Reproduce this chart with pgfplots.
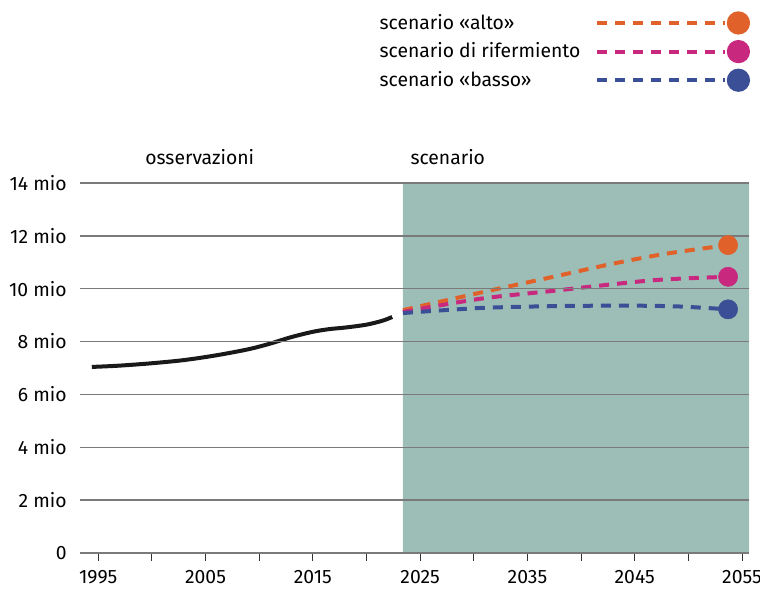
\documentclass[border=0pt]{standalone}
\usepackage{pgfplots}
\pgfplotsset{compat=1.18}
\usepackage{fontspec}
\setmainfont{Fira Sans}
\definecolor{shade}{HTML}{9DBEB7}
\definecolor{corange}{HTML}{E0622A}
\definecolor{cpink}{HTML}{C8287E}
\definecolor{cblue}{HTML}{3A4F96}
\definecolor{cgrid}{HTML}{7A7A7A}
\begin{document}
\fontsize{14.5pt}{17pt}\selectfont
\begin{tikzpicture}
\useasboundingbox (0,0) rectangle (570pt,442.5pt);
\begin{axis}[
  at={(60pt,27.75pt)}, anchor=south west,
  scale only axis, width=501.75pt, height=277.5pt,
  xmin=1993.3, xmax=2055.65, ymin=0, ymax=14,
  axis on top,
  axis x line*=bottom, axis y line*=left,
  x axis line style={cgrid, line width=1pt, -},
  y axis line style={draw=none},
  ytick={0,2,...,14},
  yticklabels={0,2 mio,4 mio,6 mio,8 mio,10 mio,12 mio,14 mio},
  ymajorgrids, grid style={cgrid, line width=1pt},
  ytick style={draw=none},
  xtick={1995,2005,...,2055},
  xticklabels={1995,2005,2015,2025,2035,2045,2055},
  minor xtick={2000,2010,...,2050},
  tick align=outside, xtick pos=bottom,
  major tick length=6pt, minor tick length=6pt,
  xtick style={black!80, line width=0.8pt},
  minor tick style={black!80, line width=0.8pt},
  /pgf/number format/assume math mode=true,
  tick label style={font=\fontsize{14.5pt}{17pt}\selectfont},
  yticklabel style={xshift=1pt},
  xticklabel style={yshift=-2pt},
  legend style={draw=none, fill=none, at={(0.4375,1.472)}, anchor=north west,
    font=\fontsize{14.5pt}{17pt}\selectfont, row sep=4pt, column sep=9pt},
  legend cell align=left,
  legend plot pos=right,
  legend image code/.code={
    \draw[#1] (0pt,0pt) -- (96pt,0pt);
    \fill[#1, solid] (106pt,0pt) circle (7.2pt);
  },
  clip=false,
]
\addplot[draw=none, fill=shade, forget plot] coordinates {(2023.4,0) (2055.65,0) (2055.65,14) (2023.4,14)} \closedcycle;
\addplot[black!90, line width=3pt, smooth, forget plot] coordinates {
(1994.4,7.04) (1997,7.09) (2000,7.18) (2003,7.30) (2006,7.48) (2009,7.71) (2011,7.92) (2013,8.17) (2015,8.37) (2016.5,8.47) (2018,8.53) (2020,8.64) (2021.5,8.79) (2022.4,8.93)};
\addplot[corange, line width=3pt, dash pattern=on 7.5pt off 6pt, smooth] coordinates {
(2023.4,9.19) (2030.6,9.85) (2037.4,10.45) (2043,10.95) (2048,11.33) (2053.7,11.65)};
\addlegendentry{scenario «alto»}
\addplot[cpink, line width=3pt, dash pattern=on 7.5pt off 6pt, smooth] coordinates {
(2023.4,9.12) (2030.6,9.62) (2037.4,9.92) (2046.7,10.32) (2053.7,10.45)};
\addlegendentry{scenario di rifermiento}
\addplot[cblue, line width=3pt, dash pattern=on 7.5pt off 6pt, smooth] coordinates {
(2023.4,9.08) (2030.6,9.27) (2037.4,9.34) (2044,9.36) (2049,9.33) (2053.7,9.22)};
\addlegendentry{scenario «basso»}
\addplot[only marks, mark=*, mark size=7.2pt, corange, forget plot] coordinates {(2053.7,11.65)};
\addplot[only marks, mark=*, mark size=7.2pt, cpink, forget plot] coordinates {(2053.7,10.45)};
\addplot[only marks, mark=*, mark size=7.2pt, cblue, forget plot] coordinates {(2053.7,9.22)};
\node[anchor=base] at (rel axis cs:0.179,1.0) [yshift=14pt] {osservazioni};
\node[anchor=base west] at (rel axis cs:0.484,1.0) [yshift=14pt] {scenario};
\end{axis}
\end{tikzpicture}
\end{document}
